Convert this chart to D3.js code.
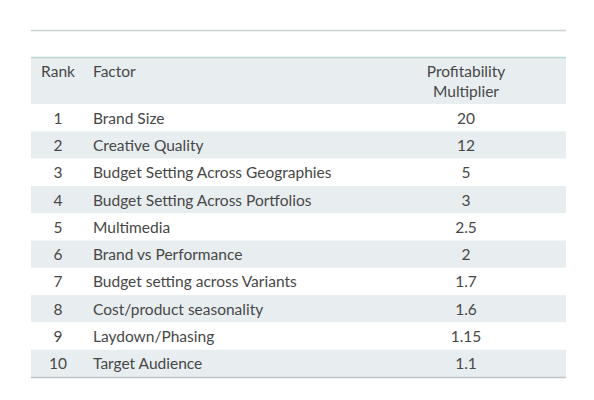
<!DOCTYPE html><html><head><meta charset="utf-8">
<script src="https://d3js.org/d3.v7.min.js"></script>
<style>body{margin:0;background:#fff}</style></head><body><svg id="c" width="594" height="400"></svg>
<script>
const ranks=[1,2,3,4,5,6,7,8,9,10];
const factors=["Brand Size","Creative Quality","Budget Setting Across Geographies","Budget Setting Across Portfolios","Multimedia","Brand vs Performance","Budget setting across Variants","Cost/product seasonality","Laydown/Phasing","Target Audience"];
const multipliers=["20","12","5","3","2.5","2","1.7","1.6","1.15","1.1"];
const svg=d3.select("#c");
const x0=31,x1=566;
const y=d3.scaleBand().domain(ranks).range([104,377]);
const font="Lato, 'Open Sans', sans-serif", col="#474747", fs=15.5;
svg.append("line").attr("x1",x0).attr("x2",x1).attr("y1",30.5).attr("y2",30.5).attr("stroke","#c8d2d0").attr("stroke-width",1.5);
svg.append("rect").attr("x",x0).attr("y",57).attr("width",x1-x0).attr("height",47).attr("fill","#e8eef0");
svg.append("line").attr("x1",x0).attr("x2",x1).attr("y1",57.5).attr("y2",57.5).attr("stroke","#b9d8cf").attr("stroke-width",1.5);
const hd=svg.append("g").attr("font-family",font).attr("font-size",fs).attr("fill",col);
hd.append("text").attr("x",58).attr("y",77).attr("text-anchor","middle").text("Rank");
hd.append("text").attr("x",93).attr("y",77).text("Factor");
hd.append("text").attr("x",466).attr("y",77).attr("text-anchor","middle").text("Profitability");
hd.append("text").attr("x",466).attr("y",97).attr("text-anchor","middle").text("Multiplier");
const rows=svg.selectAll("g.r").data(ranks).join("g").attr("class","r").attr("transform",d=>`translate(0,${y(d)})`);
rows.append("rect").attr("x",x0).attr("width",x1-x0).attr("height",y.bandwidth()).attr("fill",(d,i)=>i%2?"#e8eef0":"#fff");
const t=rows.append("g").attr("font-family",font).attr("font-size",fs).attr("fill",col);
t.append("text").attr("x",58).attr("y",y.bandwidth()/2+6).attr("text-anchor","middle").text(d=>d);
t.append("text").attr("x",93).attr("y",y.bandwidth()/2+6).text((d,i)=>factors[i]);
t.append("text").attr("x",466).attr("y",y.bandwidth()/2+6).attr("text-anchor","middle").text((d,i)=>multipliers[i]);
svg.append("line").attr("x1",x0).attr("x2",x1).attr("y1",377.5).attr("y2",377.5).attr("stroke","#bcc4c6").attr("stroke-width",1.5);
</script></body></html>
